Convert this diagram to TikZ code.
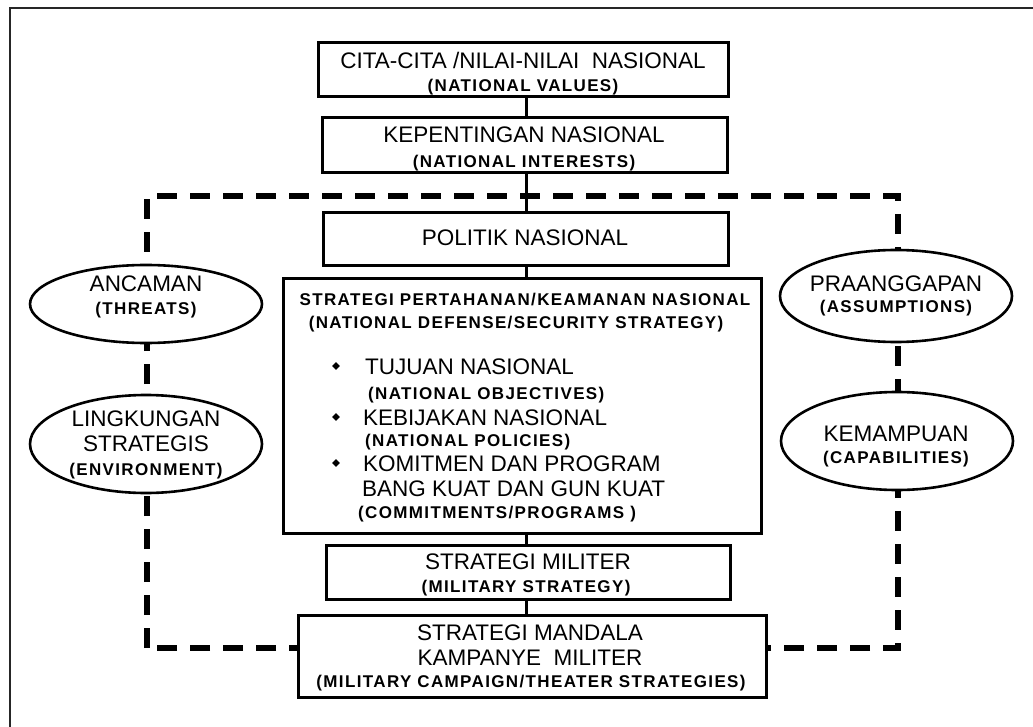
\documentclass[tikz,border=0pt]{standalone}
\usepackage{fontspec}
\setmainfont{Liberation Sans}
\newfontfamily\spfont[LetterSpace=8]{Liberation Sans}
\usetikzlibrary{shapes.geometric}

\tikzset{
  box/.style={draw, rectangle, line width=3pt, fill=white, inner sep=0pt},
  oval/.style={draw, ellipse, line width=2.6pt, fill=white, inner sep=0pt},
  main/.style={font=\fontsize{22.5}{24}\selectfont, inner sep=0pt, text height=16pt, text depth=0pt},
  sub/.style={font=\spfont\bfseries\fontsize{17}{19}\selectfont, inner sep=0pt, text height=12.2pt, text depth=0pt},
  dashline/.style={line width=5.5pt, dash pattern=on 20pt off 13pt, line join=miter},
  conn/.style={line width=3pt},
  bulletmark/.style={diamond, fill=black, inner sep=0pt, minimum size=8pt},
  framel/.style={line width=2pt, draw=black!85},
}

\begin{document}
\begin{tikzpicture}[x=1pt, y=-1pt]
\useasboundingbox (0,0) rectangle (1033,727);

% page frame (left and top edges)
\coordinate (fa) at (10,727);
\coordinate (fb) at (10,8);
\coordinate (fc) at (1040,8);
\draw[framel] (fa) -- (fb) -- (fc);

% dashed environment loop
\coordinate (spine) at (526,0);
\coordinate (tl) at (147,196);
\coordinate (tr) at (898,196);
\coordinate (br) at (898,648);
\coordinate (bl) at (147,648);
\draw[dashline] (bl) -- (tl) -- (tr) -- (br) -- cycle;

% central column of boxes
\node[box, minimum width=410pt, minimum height=54pt] (b1) at (523,70) {};
\node[main] (b1a) at (523,61) {CITA-CITA /NILAI-NILAI~ NASIONAL};
\node[sub]  (b1b) at (523,85) {(NATIONAL VALUES)};

\node[box, minimum width=405pt, minimum height=55pt] (b2) at (524.5,145.5) {};
\node[main] (b2a) at (524,135) {KEPENTINGAN NASIONAL};
\node[sub]  (b2b) at (524,161) {(NATIONAL INTERESTS)};

\node[box, minimum width=405pt, minimum height=53pt] (pol) at (525.5,239.5) {};
\node[main] (pola) at (525,238) {POLITIK NASIONAL};

\node[box, minimum width=478pt, minimum height=254pt] (big) at (522,406) {};
\node[sub] (biga) at (525,299) {STRATEGI PERTAHANAN/KEAMANAN NASIONAL};
\node[sub] (bigb) at (516,322) {(NATIONAL DEFENSE/SECURITY STRATEGY)};
\node[bulletmark] (m1) at (336,366) {};
\node[bulletmark] (m2) at (336,417) {};
\node[bulletmark] (m3) at (336,463) {};
\node[main, anchor=west] (t1) at (365,366) {TUJUAN NASIONAL};
\node[sub,  anchor=west] (t1b) at (368,393) {(NATIONAL OBJECTIVES)};
\node[main, anchor=west] (t2) at (363,417) {KEBIJAKAN NASIONAL};
\node[sub,  anchor=west] (t2b) at (365,440) {(NATIONAL POLICIES)};
\node[main, anchor=west] (t3) at (363,463) {KOMITMEN DAN PROGRAM};
\node[main, anchor=west] (t3a) at (362,488) {BANG KUAT DAN GUN KUAT};
\node[sub,  anchor=west] (t3b) at (358,512) {(COMMITMENTS/PROGRAMS )};

\node[box, minimum width=404pt, minimum height=54pt] (mil) at (528,572) {};
\node[main] (mila) at (528,561) {STRATEGI MILITER};
\node[sub]  (milb) at (526,586) {(MILITARY STRATEGY)};

\node[box, minimum width=468pt, minimum height=82pt] (bot) at (532,656) {};
\node[main] (bota) at (530,632) {STRATEGI MANDALA};
\node[main] (botb) at (530,657) {KAMPANYE~ MILITER};
\node[sub]  (botc) at (531,681) {(MILITARY CAMPAIGN/THEATER STRATEGIES)};

% side ovals
\node[oval, minimum width=232pt, minimum height=78pt] (anc) at (146,304) {};
\node[main] (anca) at (146,283) {ANCAMAN};
\node[sub]  (ancb) at (146,308) {(THREATS)};

\node[oval, minimum width=232pt, minimum height=98pt] (lin) at (146,444) {};
\node[main] (lina) at (146,418) {LINGKUNGAN};
\node[main] (linb) at (146,443) {STRATEGIS};
\node[sub]  (linc) at (146,469) {(ENVIRONMENT)};

\node[oval, minimum width=232pt, minimum height=92pt] (pra) at (896,296) {};
\node[main] (praa) at (896,283) {PRAANGGAPAN};
\node[sub]  (prab) at (896,306) {(ASSUMPTIONS)};

\node[oval, minimum width=232pt, minimum height=98pt] (kem) at (897,441) {};
\node[main] (kema) at (896,433) {KEMAMPUAN};
\node[sub]  (kemb) at (896,457) {(CAPABILITIES)};

% spine connectors
\draw[conn] (b1.south -| spine) -- (b2.north -| spine);
\draw[conn] (b2.south -| spine) -- (pol.north -| spine);
\draw[conn] (pol.south -| spine) -- (big.north -| spine);
\draw[conn] (big.south -| spine) -- (mil.north -| spine);
\draw[conn] (mil.south -| spine) -- (bot.north -| spine);
\end{tikzpicture}
\end{document}
